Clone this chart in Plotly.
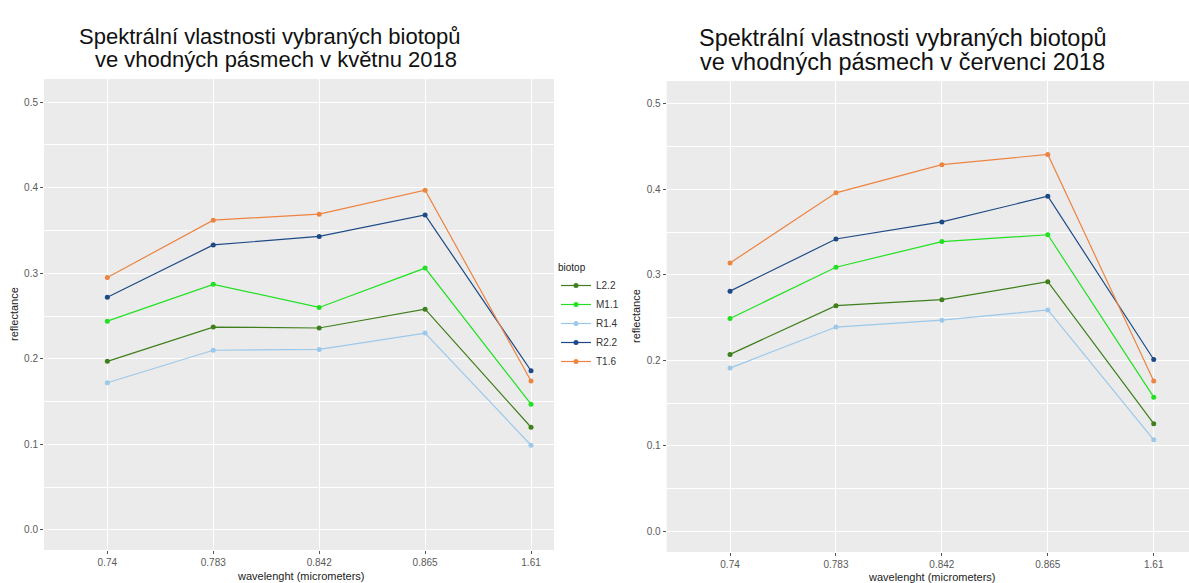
import plotly.graph_objects as go

W, H = 1189, 583

wavelengths = ["0.74", "0.783", "0.842", "0.865", "1.61"]
biotops = ["L2.2", "M1.1", "R1.4", "R2.2", "T1.6"]
colors = {"L2.2": "#3f7f1c", "M1.1": "#22e022", "R1.4": "#9cc8ea", "R2.2": "#1d4a86", "T1.6": "#ec8442"}

may_L22 = [0.197, 0.237, 0.236, 0.258, 0.120]
may_M11 = [0.244, 0.287, 0.260, 0.306, 0.147]
may_R14 = [0.172, 0.210, 0.211, 0.230, 0.099]
may_R22 = [0.272, 0.333, 0.343, 0.368, 0.186]
may_T16 = [0.295, 0.362, 0.369, 0.397, 0.174]

jul_L22 = [0.207, 0.264, 0.271, 0.292, 0.126]
jul_M11 = [0.249, 0.309, 0.339, 0.347, 0.157]
jul_R14 = [0.191, 0.239, 0.247, 0.259, 0.107]
jul_R22 = [0.281, 0.342, 0.362, 0.392, 0.201]
jul_T16 = [0.314, 0.396, 0.429, 0.441, 0.176]

may = {"L2.2": may_L22, "M1.1": may_M11, "R1.4": may_R14, "R2.2": may_R22, "T1.6": may_T16}
jul = {"L2.2": jul_L22, "M1.1": jul_M11, "R1.4": jul_R14, "R2.2": jul_R22, "T1.6": jul_T16}

title_left = ["Spektrální vlastnosti vybraných biotopů", "ve vhodných pásmech v květnu 2018"]
title_right = ["Spektrální vlastnosti vybraných biotopů", "ve vhodných pásmech v červenci 2018"]

FONT = "Liberation Sans, Arial, sans-serif"

def px(x):
    return x / W

def py(y):
    return 1 - y / H

fig = go.Figure()
for b in biotops:
    fig.add_trace(go.Scatter(x=wavelengths, y=may[b], mode="lines+markers", name=b,
                             line=dict(color=colors[b], width=1.2),
                             marker=dict(color=colors[b], size=5),
                             xaxis="x", yaxis="y", legendgroup=b, showlegend=True))
for b in biotops:
    fig.add_trace(go.Scatter(x=wavelengths, y=jul[b], mode="lines+markers", name=b,
                             line=dict(color=colors[b], width=1.2),
                             marker=dict(color=colors[b], size=5),
                             xaxis="x2", yaxis="y2", legendgroup=b, showlegend=False))

def xax(domain, rng, anchor):
    return dict(domain=domain, range=rng, type="category", anchor=anchor,
                showgrid=True, gridcolor="white", gridwidth=1.2,
                ticks="outside", ticklen=3, tickcolor="#555", tickwidth=1,
                tickfont=dict(family=FONT, size=10, color="#5a5a5a"),
                showline=False, zeroline=False, fixedrange=True)

def yax(domain, rng, anchor):
    return dict(domain=domain, range=rng, anchor=anchor,
                tickvals=[0, 0.1, 0.2, 0.3, 0.4, 0.5], ticktext=["0.0", "0.1", "0.2", "0.3", "0.4", "0.5"],
                showgrid=True, gridcolor="white", gridwidth=1.2,
                minor=dict(tickvals=[0.05, 0.15, 0.25, 0.35, 0.45], showgrid=True, gridcolor="white", gridwidth=0.6, ticks=""),
                ticks="outside", ticklen=3, tickcolor="#555", tickwidth=1,
                tickfont=dict(family=FONT, size=10, color="#5a5a5a"),
                showline=False, zeroline=False, fixedrange=True)

fig.update_layout(
    width=W, height=H,
    margin=dict(l=0, r=0, t=0, b=0),
    paper_bgcolor="white",
    plot_bgcolor="#EBEBEB",
    font=dict(family=FONT),
    xaxis=xax([px(44), px(554)], [-0.598, 4.217], "y"),
    yaxis=yax([py(550), py(79)], [-0.0234, 0.5269], "x"),
    xaxis2=xax([px(666.7), 1.0], [-0.598, 4.333], "y2"),
    yaxis2=yax([py(552), py(81)], [-0.0242, 0.5269], "x2"),
    legend=dict(title=dict(text="biotop", font=dict(size=10, color="#222", family=FONT)),
                font=dict(size=10, color="#333", family=FONT),
                x=px(556), y=py(258), xanchor="left", yanchor="top",
                bgcolor="rgba(0,0,0,0)", tracegroupgap=0, itemwidth=30),
)

ann = []
ann.append(dict(text=title_left[0], x=px(269.5), y=py(36.5), xref="paper", yref="paper", showarrow=False,
                xanchor="center", yanchor="middle", font=dict(size=22, color="#111", family=FONT)))
ann.append(dict(text=title_left[1], x=px(276), y=py(59.5), xref="paper", yref="paper", showarrow=False,
                xanchor="center", yanchor="middle", font=dict(size=22, color="#111", family=FONT)))
ann.append(dict(text=title_right[0], x=px(903), y=py(38), xref="paper", yref="paper", showarrow=False,
                xanchor="center", yanchor="middle", font=dict(size=23.5, color="#111", family=FONT)))
ann.append(dict(text=title_right[1], x=px(903), y=py(61.5), xref="paper", yref="paper", showarrow=False,
                xanchor="center", yanchor="middle", font=dict(size=23.5, color="#111", family=FONT)))
ann.append(dict(text="reflectance", x=px(14), y=py(314), xref="paper", yref="paper", showarrow=False,
                textangle=-90, xanchor="center", yanchor="middle", font=dict(size=11, color="#222", family=FONT)))
ann.append(dict(text="reflectance", x=px(636), y=py(316), xref="paper", yref="paper", showarrow=False,
                textangle=-90, xanchor="center", yanchor="middle", font=dict(size=11, color="#222", family=FONT)))
ann.append(dict(text="wavelenght (micrometers)", x=px(301), y=py(576), xref="paper", yref="paper", showarrow=False,
                xanchor="center", yanchor="middle", font=dict(size=11, color="#222", family=FONT)))
ann.append(dict(text="wavelenght (micrometers)", x=px(932), y=py(577), xref="paper", yref="paper", showarrow=False,
                xanchor="center", yanchor="middle", font=dict(size=11, color="#222", family=FONT)))
fig.update_layout(annotations=ann)

fig.write_html("out.html", config={"displayModeBar": False},
               post_script="document.body.style.margin='0';document.body.style.overflow='hidden';")
